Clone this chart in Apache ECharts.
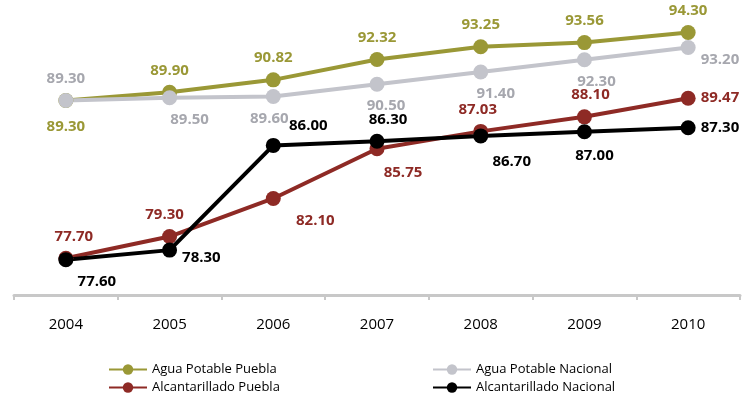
<!DOCTYPE html>
<html>
<head>
<meta charset="utf-8">
<script src="https://cdn.jsdelivr.net/npm/echarts@6/dist/echarts.min.js"></script>
<style>
  html, body { margin: 0; padding: 0; background: #fff; }
  #chart { width: 742px; height: 401px; }
</style>
</head>
<body>
<div id="chart"></div>
<script>
// datos
const years = ['2004', '2005', '2006', '2007', '2008', '2009', '2010'];
const aguaPuebla = [89.30, 89.90, 90.82, 92.32, 93.25, 93.56, 94.30];
const aguaNacional = [89.30, 89.50, 89.60, 90.50, 91.40, 92.30, 93.20];
const alcPuebla = [77.70, 79.30, 82.10, 85.75, 87.03, 88.10, 89.47];
const alcNacional = [77.60, 78.30, 86.00, 86.30, 86.70, 87.00, 87.30];

// posición de cada etiqueta: [position, offsetX, offsetY]
const posAguaPuebla = [['bottom', 0, 6], ['top', 0, -2], ['top', 0, -2], ['top', 0, -2], ['top', 0, -2], ['top', 0, -2], ['top', 0, -2]];
const posAguaNacional = [['top', 0, -2], ['bottom', 20, 2], ['bottom', -4, 2], ['bottom', 9, 2], ['bottom', 15, 2], ['bottom', 12, 2], ['right', 0, 12]];
const posAlcPuebla = [['top', 8, -2], ['top', -5, -2], ['bottom', 42, 2], ['bottom', 26, 4], ['top', -3, -2], ['top', 6, -2], ['right', 0, 0]];
const posAlcNacional = [['bottom', 31, 2], ['right', 0, 8], ['top', 35, 0], ['top', 11, -2], ['bottom', 31, 6], ['bottom', 10, 4], ['right', 0, 0]];

const labelFont = { fontFamily: 'Open Sans', fontWeight: 'bold', fontSize: 15 };

function buildData(values, pos, color) {
  return values.map((v, i) => ({
    value: v,
    label: {
      show: true,
      position: pos[i][0],
      offset: [pos[i][1], pos[i][2]],
      color: color,
      formatter: v.toFixed(2),
      ...labelFont
    }
  }));
}

function makeSeries(name, values, pos, lineColor, labelColor) {
  return {
    name: name,
    type: 'line',
    data: buildData(values, pos, labelColor),
    symbol: 'circle',
    symbolSize: 15,
    lineStyle: { width: 4, color: lineColor },
    itemStyle: { color: lineColor },
    emphasis: { disabled: true }
  };
}

const legendBase = {
  orient: 'vertical',
  top: 363,
  height: 38,
  itemWidth: 38,
  itemHeight: 13,
  itemGap: 5,
  padding: 0,
  textStyle: { fontFamily: 'Open Sans', fontSize: 13, color: '#000' }
};

const chart = echarts.init(document.getElementById('chart'));
chart.setOption({
  animation: false,
  grid: { left: 14, right: 2, top: 23, bottom: 106 },
  legend: [
    { ...legendBase, data: ['Agua Potable Puebla', 'Alcantarillado Puebla'], left: 108 },
    { ...legendBase, data: ['Agua Potable Nacional', 'Alcantarillado Nacional'], left: 432 }
  ],
  xAxis: {
    type: 'category',
    data: years,
    boundaryGap: true,
    axisLine: { lineStyle: { color: '#c8c8c8', width: 3 } },
    axisTick: { show: true, length: 5, lineStyle: { color: '#c8c8c8', width: 2 } },
    axisLabel: { margin: 22, fontFamily: 'Open Sans', fontSize: 15, color: '#000' }
  },
  yAxis: {
    type: 'value',
    min: 75,
    max: 95,
    show: false,
    splitLine: { show: false }
  },
  // orden de dibujo: verde, gris, rojo, negro (el último queda encima)
  series: [
    makeSeries('Agua Potable Puebla', aguaPuebla, posAguaPuebla, '#9a9836', '#9a9836'),
    makeSeries('Agua Potable Nacional', aguaNacional, posAguaNacional, '#c3c4cb', '#a6a7ae'),
    makeSeries('Alcantarillado Puebla', alcPuebla, posAlcPuebla, '#8e2a25', '#8e2a25'),
    makeSeries('Alcantarillado Nacional', alcNacional, posAlcNacional, '#000000', '#000000')
  ]
});
</script>
</body>
</html>
